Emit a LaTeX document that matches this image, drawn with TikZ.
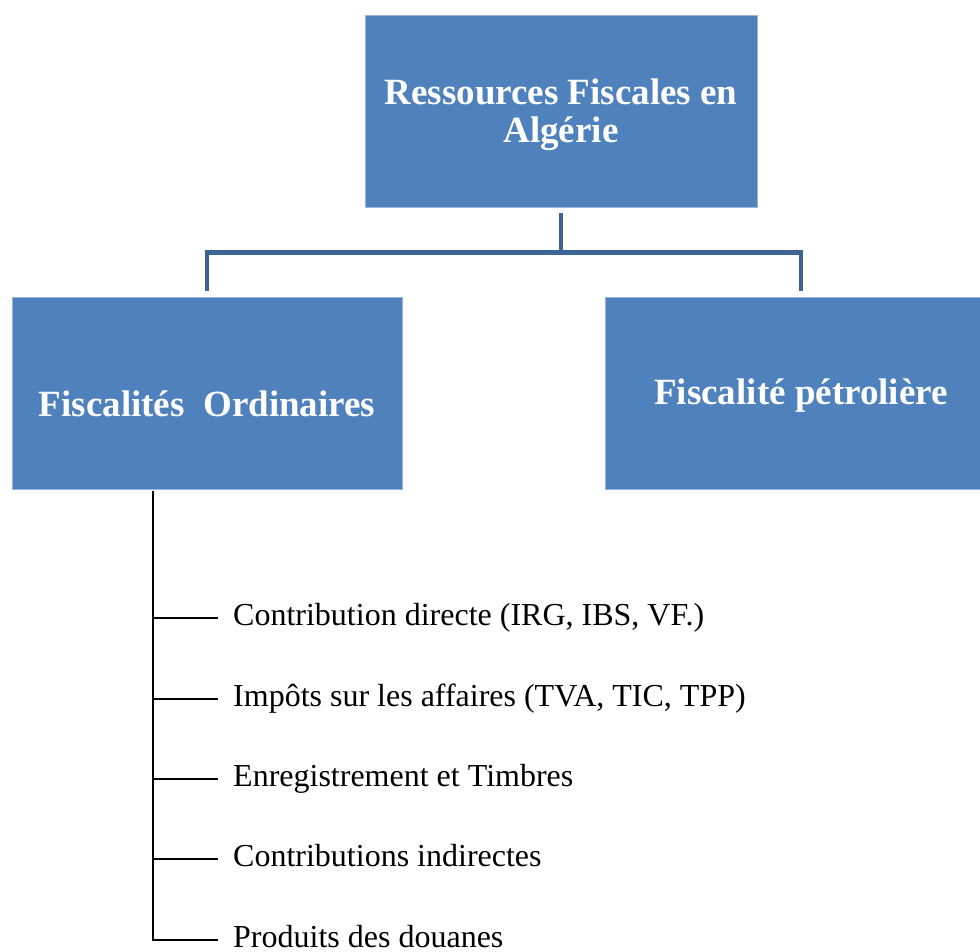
\documentclass[tikz,border=0pt]{standalone}
\usepackage{fontspec}
\setmainfont{Liberation Serif}
\usetikzlibrary{positioning}
\definecolor{BlocBlue}{HTML}{4F81BD}
\definecolor{BlocEdge}{HTML}{9CB6DA}
\definecolor{LinkBlue}{HTML}{3C6496}

\begin{document}
\begin{tikzpicture}[x=1pt, y=-1pt,
        bloc/.style={rectangle, draw=BlocEdge, line width=0.8pt, fill=BlocBlue,
                     minimum width=392pt, minimum height=192pt, inner sep=0pt,
                     text=white, align=center,
                     font=\fontsize{37}{38}\selectfont\bfseries},
        link/.style={line width=4.5pt, LinkBlue},
        twig/.style={line width=1.6pt, black, line cap=rect},
        entry/.style={anchor=west, inner sep=0pt, text height=22pt, text depth=8pt,
                      font=\fontsize{32}{36}\selectfont}
    ]
        \useasboundingbox (0,0) rectangle (980,951);
        \node[bloc, text depth=0pt] (res)  at (561,111) {Ressources Fiscales en\\Algérie};
        \node[bloc, minimum width=390pt, text height=46pt, text depth=0pt]
              (ford) at (207,393) {Fiscalités\ \ Ordinaires};
        \node[bloc, text height=30pt, text depth=8pt]
              (fpet) at (801,393) {Fiscalité pétrolière};
        \draw[link, shorten <=6pt] (res.south) -- ++(0,45) coordinate (fork);
        \draw[link, shorten >=6pt] (fork) -| (ford.north);
        \draw[link, shorten >=6pt] (fork) -| (fpet.north);
        \coordinate (stem) at (153,492);
        \node[entry] (e1) at (233,618) {Contribution directe (IRG, IBS, VF.)};
        \node[entry] (e2) at (233,699) {Impôts sur les affaires (TVA, TIC, TPP)};
        \node[entry] (e3) at (233,779) {Enregistrement et Timbres};
        \node[entry] (e4) at (233,859) {Contributions indirectes};
        \node[entry] (e5) at (233,940) {Produits des douanes};
        \draw[twig] (stem) -- (stem |- e5.west);
        \draw[twig] (stem |- e1.west) -- ([xshift=-16pt]e1.west);
        \draw[twig] (stem |- e2.west) -- ([xshift=-16pt]e2.west);
        \draw[twig] (stem |- e3.west) -- ([xshift=-16pt]e3.west);
        \draw[twig] (stem |- e4.west) -- ([xshift=-16pt]e4.west);
        \draw[twig] (stem |- e5.west) -- ([xshift=-16pt]e5.west);
    \end{tikzpicture}
\end{document}
